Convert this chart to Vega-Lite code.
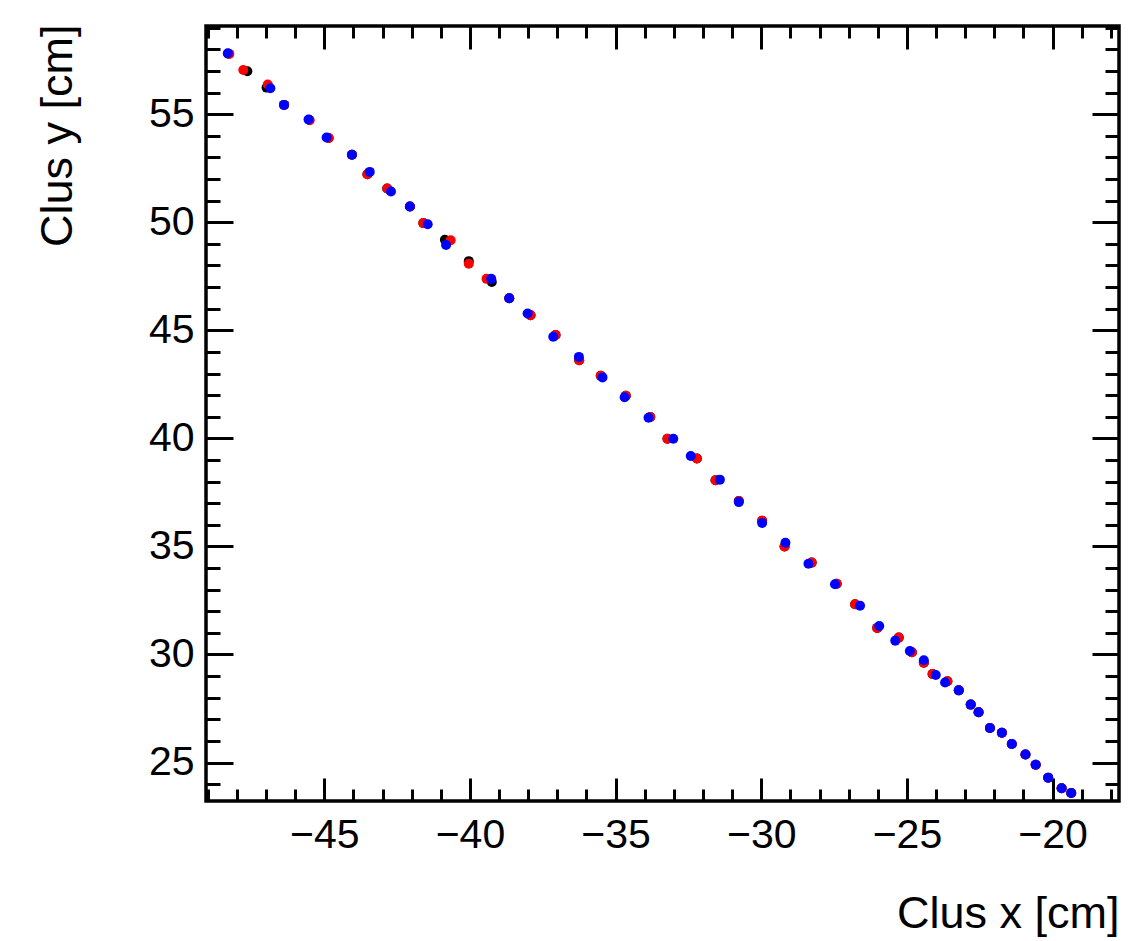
{
  "$schema": "https://vega.github.io/schema/vega-lite/v6.json",
  "width": 913,
  "height": 775,
  "autosize": {"type": "none"},
  "padding": {"left": 206, "top": 26, "right": 28, "bottom": 140},
  "background": "white",
  "config": {
    "view": {"stroke": "black", "strokeWidth": 3.5},
    "axis": {
      "grid": false,
      "domain": false,
      "tickColor": "black",
      "tickWidth": 3,
      "labelColor": "black",
      "labelFont": "Liberation Sans",
      "labelFontSize": 41,
      "titleFont": "Liberation Sans",
      "titleFontSize": 45,
      "titleFontWeight": "normal",
      "titleColor": "black"
    },
    "point": {"filled": true, "size": 100, "opacity": 1, "strokeWidth": 0}
  },
  "datasets": {
    "black": [
      {"x": -48.30, "y": 57.80}, {"x": -47.64, "y": 56.99}, {"x": -46.98, "y": 56.23}, {"x": -46.38, "y": 55.43},
      {"x": -45.52, "y": 54.74}, {"x": -44.85, "y": 53.90}, {"x": -44.05, "y": 53.12}, {"x": -43.52, "y": 52.22},
      {"x": -42.84, "y": 51.56}, {"x": -42.06, "y": 50.73}, {"x": -41.60, "y": 49.96}, {"x": -40.86, "y": 49.19},
      {"x": -40.04, "y": 48.20}, {"x": -39.25, "y": 47.24}, {"x": -38.65, "y": 46.48}, {"x": -37.92, "y": 45.70},
      {"x": -37.06, "y": 44.78}, {"x": -36.25, "y": 43.61}, {"x": -35.51, "y": 42.90}, {"x": -34.65, "y": 41.97},
      {"x": -33.81, "y": 40.99}, {"x": -33.22, "y": 39.98}, {"x": -32.21, "y": 39.07}, {"x": -31.57, "y": 38.06},
      {"x": -30.77, "y": 37.10}, {"x": -29.97, "y": 36.19}, {"x": -29.20, "y": 35.00}, {"x": -28.27, "y": 34.25},
      {"x": -27.41, "y": 33.27}, {"x": -26.78, "y": 32.32}, {"x": -26.02, "y": 31.23}, {"x": -25.28, "y": 30.78},
      {"x": -24.83, "y": 30.10}, {"x": -24.42, "y": 29.62}, {"x": -24.12, "y": 29.10}, {"x": -23.61, "y": 28.76},
      {"x": -23.22, "y": 28.34}, {"x": -22.81, "y": 27.68}, {"x": -22.54, "y": 27.33}, {"x": -22.15, "y": 26.60},
      {"x": -21.74, "y": 26.38}, {"x": -21.40, "y": 25.86}, {"x": -20.93, "y": 25.37}, {"x": -20.58, "y": 24.90},
      {"x": -20.15, "y": 24.30}, {"x": -19.69, "y": 23.81}, {"x": -19.36, "y": 23.59}
    ],
    "red": [
      {"x": -48.26, "y": 57.79}, {"x": -47.78, "y": 57.04}, {"x": -46.94, "y": 56.37}, {"x": -46.38, "y": 55.43},
      {"x": -45.50, "y": 54.72}, {"x": -44.85, "y": 53.90}, {"x": -44.05, "y": 53.12}, {"x": -43.52, "y": 52.22},
      {"x": -42.84, "y": 51.56}, {"x": -42.06, "y": 50.73}, {"x": -41.60, "y": 49.96}, {"x": -40.66, "y": 49.17},
      {"x": -40.04, "y": 48.08}, {"x": -39.43, "y": 47.38}, {"x": -38.65, "y": 46.48}, {"x": -37.92, "y": 45.70},
      {"x": -37.06, "y": 44.78}, {"x": -36.25, "y": 43.61}, {"x": -35.51, "y": 42.90}, {"x": -34.65, "y": 41.97},
      {"x": -33.81, "y": 40.99}, {"x": -33.22, "y": 39.98}, {"x": -32.21, "y": 39.07}, {"x": -31.57, "y": 38.06},
      {"x": -30.77, "y": 37.10}, {"x": -29.97, "y": 36.19}, {"x": -29.20, "y": 35.00}, {"x": -28.27, "y": 34.25},
      {"x": -27.41, "y": 33.27}, {"x": -26.78, "y": 32.32}, {"x": -26.02, "y": 31.23}, {"x": -25.28, "y": 30.78},
      {"x": -24.83, "y": 30.10}, {"x": -24.42, "y": 29.62}, {"x": -24.12, "y": 29.10}, {"x": -23.61, "y": 28.76},
      {"x": -23.22, "y": 28.34}, {"x": -22.81, "y": 27.68}, {"x": -22.54, "y": 27.33}, {"x": -22.15, "y": 26.60},
      {"x": -21.74, "y": 26.38}, {"x": -21.40, "y": 25.86}, {"x": -20.93, "y": 25.37}, {"x": -20.58, "y": 24.90},
      {"x": -20.15, "y": 24.30}, {"x": -19.69, "y": 23.81}, {"x": -19.36, "y": 23.59}
    ],
    "blue": [
      {"x": -48.31, "y": 57.82}, {"x": -46.85, "y": 56.20}, {"x": -46.38, "y": 55.43}, {"x": -45.54, "y": 54.75},
      {"x": -44.92, "y": 53.92}, {"x": -44.05, "y": 53.12}, {"x": -43.44, "y": 52.33}, {"x": -42.71, "y": 51.42},
      {"x": -42.06, "y": 50.73}, {"x": -41.45, "y": 49.91}, {"x": -40.82, "y": 48.95}, {"x": -39.27, "y": 47.38},
      {"x": -38.65, "y": 46.48}, {"x": -38.02, "y": 45.78}, {"x": -37.14, "y": 44.70}, {"x": -36.26, "y": 43.77},
      {"x": -35.45, "y": 42.82}, {"x": -34.69, "y": 41.90}, {"x": -33.87, "y": 40.95}, {"x": -33.02, "y": 39.98},
      {"x": -32.42, "y": 39.18}, {"x": -31.42, "y": 38.09}, {"x": -30.77, "y": 37.05}, {"x": -29.97, "y": 36.08},
      {"x": -29.17, "y": 35.17}, {"x": -28.38, "y": 34.20}, {"x": -27.47, "y": 33.25}, {"x": -26.61, "y": 32.26},
      {"x": -25.95, "y": 31.32}, {"x": -25.40, "y": 30.64}, {"x": -24.90, "y": 30.16}, {"x": -24.42, "y": 29.73},
      {"x": -24.01, "y": 29.05}, {"x": -23.69, "y": 28.70}, {"x": -23.22, "y": 28.34}, {"x": -22.81, "y": 27.68},
      {"x": -22.54, "y": 27.33}, {"x": -22.15, "y": 26.60}, {"x": -21.74, "y": 26.38}, {"x": -21.40, "y": 25.86},
      {"x": -20.93, "y": 25.37}, {"x": -20.58, "y": 24.90}, {"x": -20.15, "y": 24.30}, {"x": -19.69, "y": 23.81},
      {"x": -19.36, "y": 23.59}
    ]
  },
  "layer": [
    {
      "data": {"name": "black"},
      "mark": {"type": "point", "color": "black"},
      "encoding": {
        "x": {"field": "x", "type": "quantitative",
          "scale": {"domain": [-49.06, -17.72], "nice": false, "zero": false},
          "axis": {"orient": "bottom", "values": [-45, -40, -35, -30, -25, -20], "ticks": false, "tickSize": 0,
            "labelPadding": 14, "title": "Clus x [cm]", "titleX": 913, "titleY": 126,
            "titleAlign": "right", "titleAnchor": "end", "titleBaseline": "alphabetic"}},
        "y": {"field": "y", "type": "quantitative",
          "scale": {"domain": [23.22, 59.08], "nice": false, "zero": false},
          "axis": {"orient": "left", "values": [25, 30, 35, 40, 45, 50, 55], "ticks": false, "tickSize": 0,
            "labelPadding": 12, "title": "Clus y [cm]", "titleAngle": -90, "titleX": -135, "titleY": -2,
            "titleAlign": "right", "titleAnchor": "end", "titleBaseline": "alphabetic"}}
      }
    },
    {
      "data": {"name": "red"},
      "mark": {"type": "point", "color": "#ff0000"},
      "encoding": {
        "x": {"field": "x", "type": "quantitative",
          "scale": {"domain": [-49.06, -17.72], "nice": false, "zero": false},
          "axis": {"orient": "bottom", "values": [-45, -40, -35, -30, -25, -20], "labels": false, "tickSize": -23, "title": null}},
        "y": {"field": "y", "type": "quantitative",
          "scale": {"domain": [23.22, 59.08], "nice": false, "zero": false},
          "axis": {"orient": "left", "values": [25, 30, 35, 40, 45, 50, 55], "labels": false, "tickSize": -27, "title": null}}
      }
    },
    {
      "data": {"name": "blue"},
      "mark": {"type": "point", "color": "#0000ff", "opacity": 0},
      "encoding": {
        "x": {"field": "x", "type": "quantitative",
          "scale": {"domain": [-49.06, -17.72], "nice": false, "zero": false},
          "axis": {"orient": "bottom", "values": [-49, -48, -47, -46, -44, -43, -42, -41, -39, -38, -37, -36, -34, -33, -32, -31, -29, -28, -27, -26, -24, -23, -22, -21, -19, -18], "labels": false, "tickSize": -12, "title": null}},
        "y": {"field": "y", "type": "quantitative",
          "scale": {"domain": [23.22, 59.08], "nice": false, "zero": false},
          "axis": {"orient": "left", "values": [24, 26, 27, 28, 29, 31, 32, 33, 34, 36, 37, 38, 39, 41, 42, 43, 44, 46, 47, 48, 49, 51, 52, 53, 54, 56, 57, 58, 59], "labels": false, "tickSize": -14, "title": null}}
      }
    },
    {
      "data": {"name": "blue"},
      "mark": {"type": "point", "color": "#0000ff", "opacity": 0},
      "encoding": {
        "x": {"field": "x", "type": "quantitative",
          "scale": {"domain": [-49.06, -17.72], "nice": false, "zero": false},
          "axis": {"orient": "top", "values": [-45, -40, -35, -30, -25, -20], "labels": false, "tickSize": -23, "title": null}},
        "y": {"field": "y", "type": "quantitative",
          "scale": {"domain": [23.22, 59.08], "nice": false, "zero": false},
          "axis": {"orient": "right", "values": [25, 30, 35, 40, 45, 50, 55], "labels": false, "tickSize": -27, "title": null}}
      }
    },
    {
      "data": {"name": "blue"},
      "mark": {"type": "point", "color": "#0000ff"},
      "encoding": {
        "x": {"field": "x", "type": "quantitative",
          "scale": {"domain": [-49.06, -17.72], "nice": false, "zero": false},
          "axis": {"orient": "top", "values": [-49, -48, -47, -46, -44, -43, -42, -41, -39, -38, -37, -36, -34, -33, -32, -31, -29, -28, -27, -26, -24, -23, -22, -21, -19, -18], "labels": false, "tickSize": -12, "title": null}},
        "y": {"field": "y", "type": "quantitative",
          "scale": {"domain": [23.22, 59.08], "nice": false, "zero": false},
          "axis": {"orient": "right", "values": [24, 26, 27, 28, 29, 31, 32, 33, 34, 36, 37, 38, 39, 41, 42, 43, 44, 46, 47, 48, 49, 51, 52, 53, 54, 56, 57, 58, 59], "labels": false, "tickSize": -14, "title": null}}
      }
    }
  ],
  "resolve": {"axis": {"x": "independent", "y": "independent"}}
}
